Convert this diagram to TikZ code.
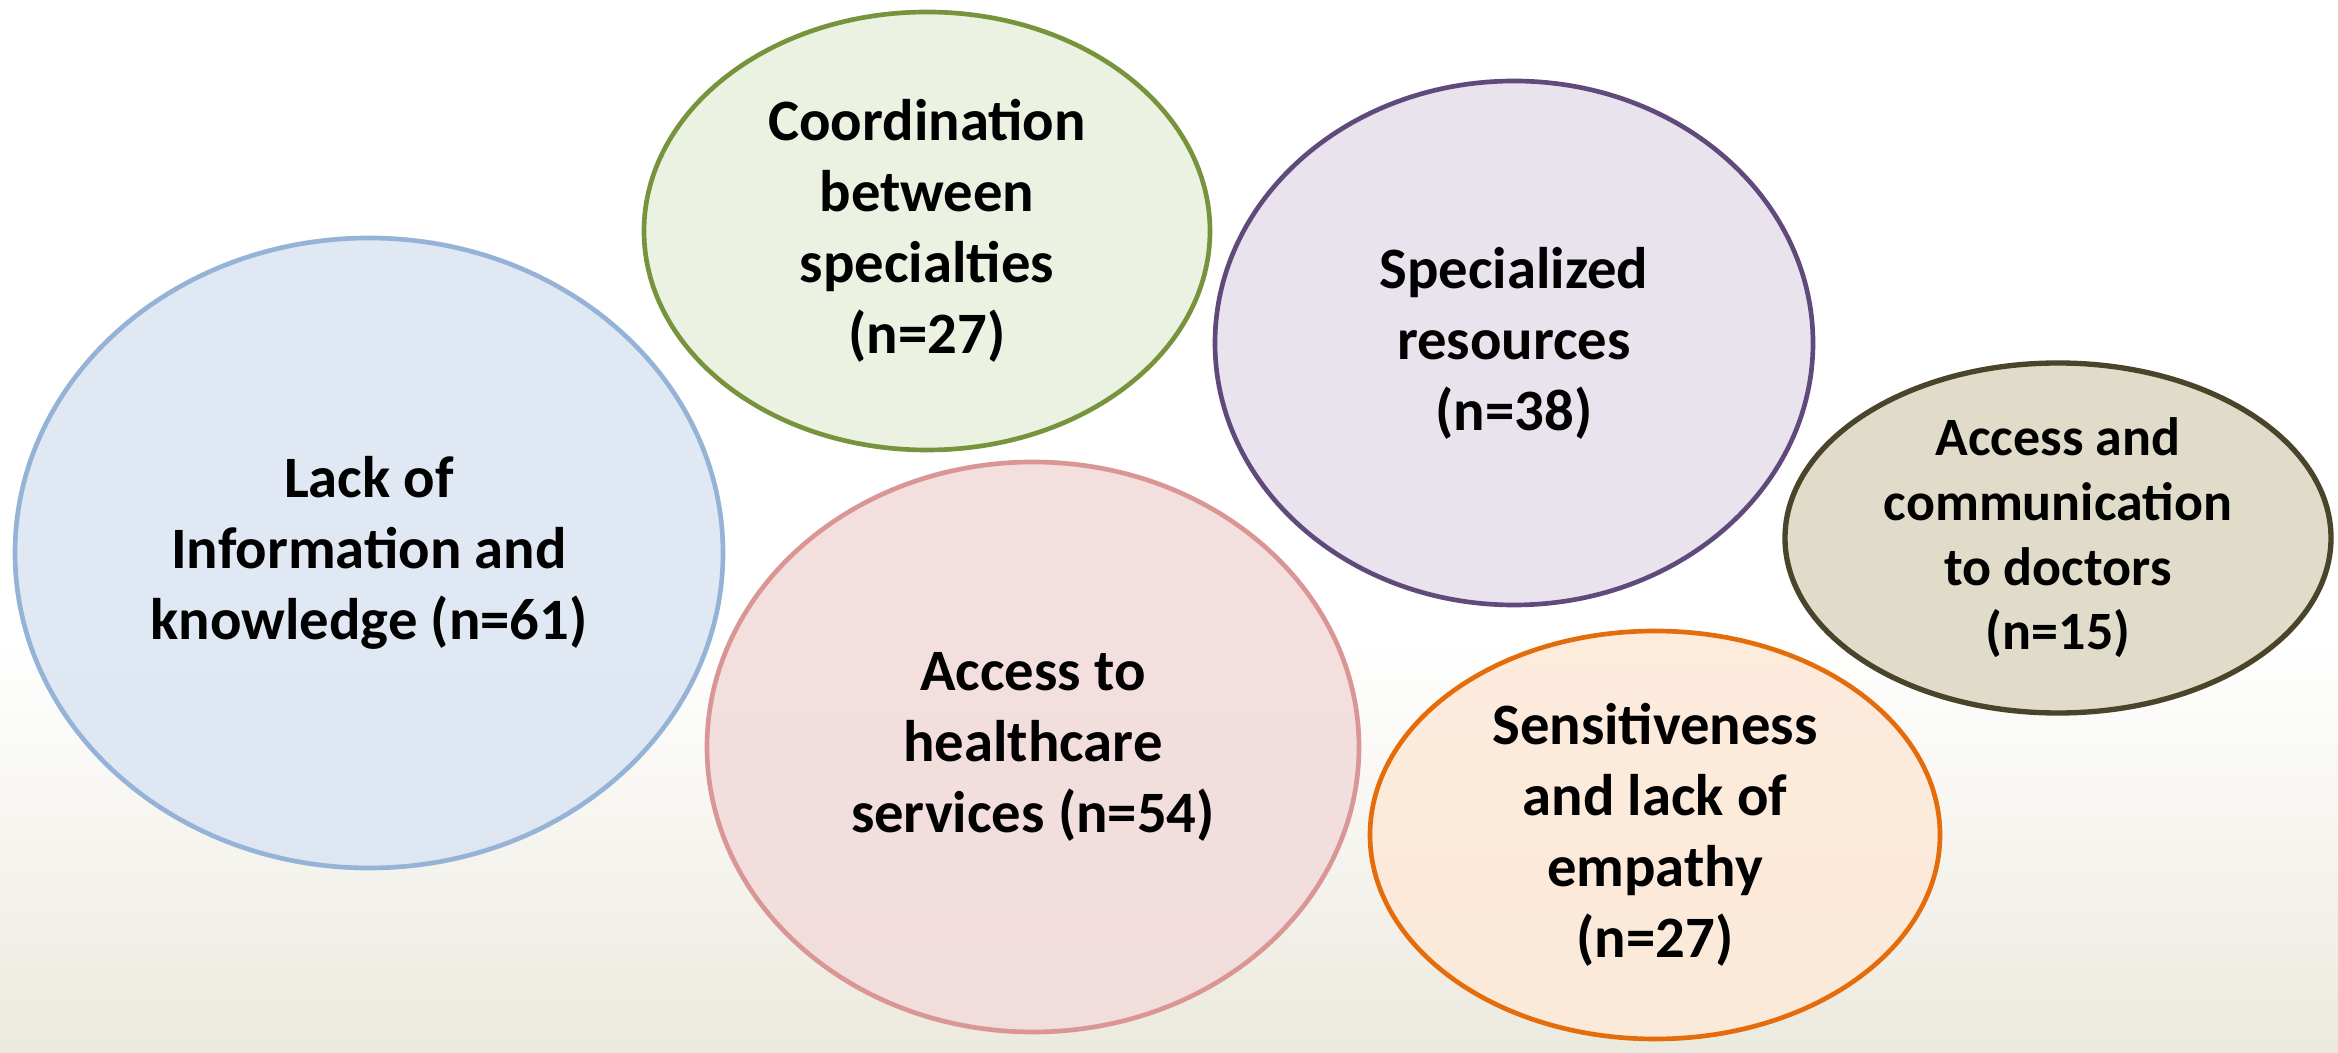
\documentclass[tikz,border=0pt]{standalone}
\usepackage{fontspec}
\setmainfont{Carlito}
\usetikzlibrary{shapes.geometric}
\definecolor{bgbot}{RGB}{236,233,222}
\definecolor{bluefill}{RGB}{220,230,242}
\definecolor{bluedraw}{RGB}{149,179,215}
\definecolor{greenfill}{RGB}{235,241,222}
\definecolor{greendraw}{RGB}{119,147,60}
\definecolor{purplefill}{RGB}{230,224,236}
\definecolor{purpledraw}{RGB}{96,74,123}
\definecolor{olivefill}{RGB}{221,217,196}
\definecolor{olivedraw}{RGB}{74,69,42}
\definecolor{pinkfill}{RGB}{242,220,219}
\definecolor{pinkdraw}{RGB}{217,150,148}
\definecolor{orangefill}{RGB}{253,233,217}
\definecolor{orangedraw}{RGB}{228,108,10}
\tikzset{
  bubble/.style={ellipse, inner sep=0pt, line width=1.4pt, fill opacity=0.9},
  lbl/.style={align=center, font=\fontsize{17.6}{21.3}\selectfont\bfseries, text=black},
  lblsmall/.style={align=center, font=\fontsize{16.2}{19.4}\selectfont\bfseries, text=black}
}
\begin{document}
\begin{tikzpicture}[x=0.3pt, y=-0.3pt]
\useasboundingbox (0,0) rectangle (2338,1053);
\fill[white] (0,0) rectangle (2338,1053);
\shade[top color=white, bottom color=bgbot] (0,640) rectangle (2338,1053);

\node[bubble, draw=bluedraw, fill=bluefill, minimum width=212.4pt, minimum height=189pt] (e1) at (369,553) {};
\node[bubble, draw=greendraw, fill=greenfill, minimum width=169.8pt, minimum height=131.4pt] (e2) at (927,231) {};
\node[bubble, draw=purpledraw, fill=purplefill, minimum width=179.4pt, minimum height=157.2pt] (e3) at (1514,343) {};
\node[bubble, draw=olivedraw, fill=olivefill, minimum width=163.8pt, minimum height=105pt, line width=1.6pt] (e4) at (2058,538) {};
\node[bubble, draw=pinkdraw, fill=pinkfill, minimum width=195.6pt, minimum height=171pt] (e5) at (1033,747) {};
\node[bubble, draw=orangedraw, fill=orangefill, minimum width=171pt, minimum height=122.4pt] (e6) at (1655,835) {};

\node[lbl] (t1) at (e1.center) {Lack of\\Information and\\knowledge (n=61)};
\node[lbl] (t2) at (e2.center) {Coordination\\between\\specialties\\(n=27)};
\node[lbl] (t3) at (e3.center) {Specialized\\resources\\(n=38)};
\node[lblsmall] (t4) at (e4.center) {Access and\\communication\\to doctors\\(n=15)};
\node[lbl] (t5) at (e5.center) {Access to\\healthcare\\services (n=54)};
\node[lbl] (t6) at (e6.center) {Sensitiveness\\and lack of\\empathy\\(n=27)};
\end{tikzpicture}
\end{document}
